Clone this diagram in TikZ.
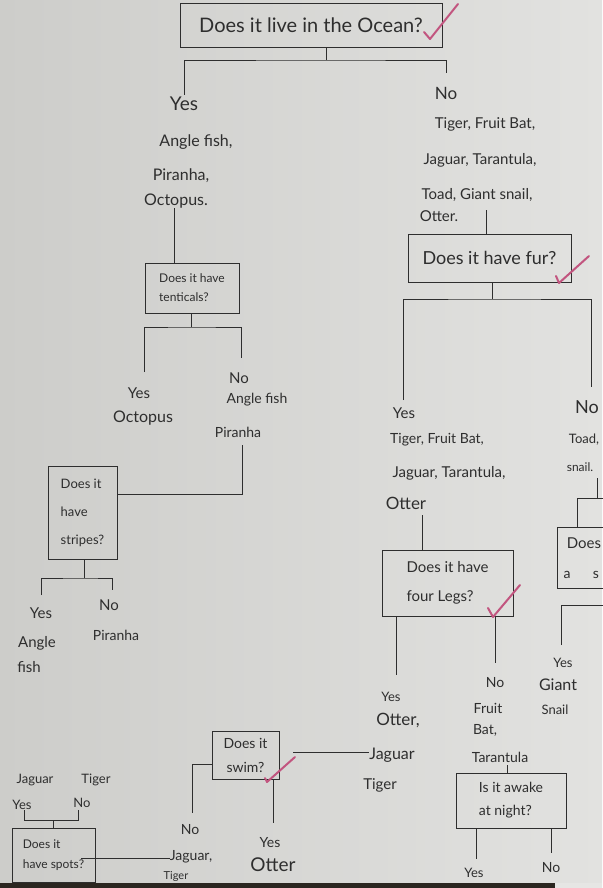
\documentclass[tikz,border=0pt]{standalone}
\usepackage{fontspec}
\setmainfont{Lato}
\definecolor{paperL}{HTML}{CDCDCA}
\definecolor{paperR}{HTML}{E2E2E0}
\definecolor{ink}{HTML}{2E2E2E}
\definecolor{tickpink}{HTML}{C2557F}
\definecolor{stripdark}{HTML}{2B2620}
\definecolor{striplight}{HTML}{E6E6E4}
\newcommand\hsz[2]{\fontsize{#1}{#2}\selectfont}
\tikzset{
  txt/.style={inner sep=0pt, text=ink},
  qbox/.style={draw=ink, line width=0.8pt, inner sep=0pt, text=ink},
  conn/.style={draw=ink, line width=0.8pt},
  tick/.style={draw=tickpink, line width=2pt, line cap=round, line join=round}
}
\begin{document}
\begin{tikzpicture}[x=1pt,y=-1pt]
\shade[left color=paperL, right color=paperR] (0,0) rectangle (602,888);
\useasboundingbox (0,0) rectangle (602,888);

% ---------- top question ----------
\node[qbox, minimum width=262pt, minimum height=44pt, font=\hsz{20}{20}] (ocean) at (311,25) {Does it live in the Ocean?};
\coordinate (j1) at (326,60);
\node[txt, font=\hsz{19}{19}] (yes1) at (184,104) {Yes};
\node[txt, font=\hsz{17}{17}] (no1) at (446,93) {No};
\draw[conn] (ocean.south -| j1) -- (j1);
\draw[conn] ([yshift=2pt]yes1.north) |- (j1) -| ([yshift=14pt]no1.north);

% ---------- left: ocean animals ----------
\node[txt, font=\hsz{16}{16}] (a1) at (196,142) {Angle fish,};
\node[txt, font=\hsz{16}{16}] (a2) at (181,176) {Piranha,};
\node[txt, font=\hsz{16}{16}] (a3) at (176,201) {Octopus.};
\node[qbox, minimum width=94pt, minimum height=50pt, align=left, font=\hsz{12}{19}] (tent) at (192,288) {Does it have\\tenticals?};
\draw[conn] ([xshift=-2pt]a3.south) -- ([xshift=-2pt]a3.south |- tent.north);

\coordinate (j2) at (191,327);
\coordinate (e2a) at (144,372);
\coordinate (e2b) at (241,358);
\draw[conn] (tent.south -| j2) -- (j2);
\draw[conn] (e2a) |- (j2) -| (e2b);
\node[txt, font=\hsz{15}{15}] (y2) at (139,393) {Yes};
\node[txt, font=\hsz{16}{16}] (y2b) at (143,418) {Octopus};
\node[txt, font=\hsz{15}{15}] (n2) at (239,378) {No};
\node[txt, font=\hsz{14}{14}] (n2b) at (257,400) {Angle fish};
\node[txt, font=\hsz{14}{14}] (n2c) at (238,432) {Piranha};

\node[qbox, minimum width=69pt, minimum height=93pt, align=left, font=\hsz{13}{28}] (stripes) at (82.5,512.5) {Does it\\have\\stripes?};
\coordinate (p1) at (242,445);
\draw[conn] (p1) |- ([yshift=18.5pt]stripes.east);

\coordinate (j3) at (84,578);
\coordinate (e3a) at (41,595);
\coordinate (e3b) at (112,590);
\draw[conn] (stripes.south -| j3) -- (j3);
\draw[conn] (e3a) |- (j3) -| (e3b);
\node[txt, font=\hsz{15}{15}] (y3) at (41,613) {Yes};
\node[txt, font=\hsz{15}{15}] (y3b) at (37,643) {Angle};
\node[txt, font=\hsz{15}{15}] (y3c) at (29,667) {fish};
\node[txt, font=\hsz{15}{15}] (n3) at (109,605) {No};
\node[txt, font=\hsz{14}{14}] (n3b) at (116,635) {Piranha};

% ---------- right: land animals ----------
\node[txt, font=\hsz{15}{15}] (r1) at (485,124) {Tiger, Fruit Bat,};
\node[txt, font=\hsz{15}{15}] (r2) at (480,160) {Jaguar, Tarantula,};
\node[txt, font=\hsz{15}{15}] (r3) at (477,195) {Toad, Giant snail,};
\node[txt, font=\hsz{15}{15}] (r4) at (439,216) {Otter.};
\node[qbox, minimum width=163pt, minimum height=48pt, font=\hsz{18}{18}] (fur) at (489.5,258) {Does it have fur?};
\coordinate (s1) at (486,210);
\draw[conn] (s1) -- (s1 |- fur.north);

\coordinate (j4) at (492,299);
\coordinate (e4a) at (403,400);
\coordinate (e4b) at (591,387);
\draw[conn] (fur.south -| j4) -- (j4);
\draw[conn] (e4a) |- (j4) -| (e4b);
\node[txt, font=\hsz{15}{15}] (y4) at (404,413) {Yes};
\node[txt, font=\hsz{14}{14}] (y4b) at (437,440) {Tiger, Fruit Bat,};
\node[txt, font=\hsz{15}{15}] (y4c) at (449,473) {Jaguar, Tarantula,};
\node[txt, font=\hsz{17}{17}] (y4d) at (406,503) {Otter};
\node[txt, font=\hsz{18}{18}] (n4) at (587,407) {No};
\node[txt, font=\hsz{13}{13}] (n4b) at (584,440) {Toad,};
\node[txt, font=\hsz{12}{12}] (n4c) at (580,467) {snail.};

% partial box on the right edge
\coordinate (q1) at (597,478);
\coordinate (q2) at (597,498);
\coordinate (q3) at (577,498);
\coordinate (q4) at (612,498);
\draw[conn] (q1) -- (q2);
\draw[conn] (q3) -- (q4);
\node[qbox, minimum width=70pt, minimum height=61pt, anchor=north west] (shell) at (557,527) {};
\draw[conn] (q3) -- (q3 |- shell.north);
\node[txt, font=\hsz{15}{15}] (sh1) at (584,543) {Does};
\node[txt, font=\hsz{14}{14}] (sh2) at (567,575) {a};
\node[txt, font=\hsz{14}{14}] (sh3) at (596,575) {s};
\coordinate (g1) at (561,645);
\coordinate (g2) at (612,605);
\draw[conn] (g1) |- (g2);
\node[txt, font=\hsz{13}{13}] (y7) at (563,663) {Yes};
\node[txt, font=\hsz{16}{16}] (y7b) at (558,685) {Giant};
\node[txt, font=\hsz{13}{13}] (y7c) at (555,710) {Snail};

% four legs
\coordinate (s2) at (422,515);
\node[qbox, minimum width=131pt, minimum height=66pt, align=left, font=\hsz{15}{29}] (legs) at (447.5,583) {Does it have\\four Legs?};
\draw[conn] (s2) -- (s2 |- legs.north);
\coordinate (e5a) at (396,675);
\coordinate (e5b) at (495,663);
\draw[conn] (legs.south -| e5a) -- (e5a);
\draw[conn] (legs.south -| e5b) -- (e5b);
\node[txt, font=\hsz{13}{13}] (y5) at (391,697) {Yes};
\node[txt, font=\hsz{17}{17}] (y5b) at (398,720) {Otter,};
\node[txt, font=\hsz{16}{16}] (jag) at (392,755) {Jaguar};
\node[txt, font=\hsz{15}{15}] (tig) at (380,785) {Tiger};
\node[txt, font=\hsz{14}{14}] (n5) at (495,683) {No};
\node[txt, font=\hsz{14}{14}] (n5b) at (488,708) {Fruit};
\node[txt, font=\hsz{14}{14}] (n5c) at (485,730) {Bat,};
\node[txt, font=\hsz{14}{14}] (n5d) at (500,757) {Tarantula};

% awake at night
\coordinate (s3) at (507,765);
\node[qbox, minimum width=110pt, minimum height=55pt, align=left, font=\hsz{14}{23}] (awake) at (511,800.5) {Is it awake\\at night?};
\draw[conn] (s3) -- (s3 |- awake.north);
\coordinate (e8a) at (476,859);
\coordinate (e8b) at (551,853);
\draw[conn] (awake.south -| e8a) -- (e8a);
\draw[conn] (awake.south -| e8b) -- (e8b);
\node[txt, font=\hsz{13}{13}] (y8) at (474,873) {Yes};
\node[txt, font=\hsz{14}{14}] (n8) at (551,868) {No};

% does it swim
\node[qbox, minimum width=67pt, minimum height=48pt, align=center, font=\hsz{14}{24}] (swim) at (245.5,755) {Does it\\swim?};
\draw[conn] ([xshift=14pt,yshift=3pt]swim.east) -- ([yshift=3pt]jag.west);
\coordinate (sw1) at (192,813);
\coordinate (sw2) at (273,823);
\draw[conn] ([yshift=-9pt]swim.west) -| (sw1);
\draw[conn] (swim.south -| sw2) -- (sw2);
\node[txt, font=\hsz{14}{14}] (n6) at (190,830) {No};
\node[txt, font=\hsz{14}{14}] (n6b) at (191,857) {Jaguar,};
\node[txt, font=\hsz{11}{11}] (n6c) at (176,876) {Tiger};
\node[txt, font=\hsz{14}{14}] (y6) at (270,843) {Yes};
\node[txt, font=\hsz{19}{19}] (y6b) at (273,865) {Otter};

% does it have spots
\node[qbox, minimum width=83pt, minimum height=54pt, align=left, font=\hsz{12}{20}] (spots) at (53.5,855) {Does it\\have spots?};
\coordinate (j6) at (53,820);
\coordinate (e6a) at (24,810);
\coordinate (e6b) at (78,810);
\draw[conn] (spots.north -| j6) -- (j6);
\draw[conn] (e6a) |- (j6) -| (e6b);
\draw[conn] ([xshift=-14pt,yshift=-3pt]spots.east) -- ([yshift=-1pt]n6b.west);
\node[txt, font=\hsz{13}{13}] (sj) at (35,780) {Jaguar};
\node[txt, font=\hsz{13}{13}] (st) at (96,780) {Tiger};
\node[txt, font=\hsz{13}{13}] (sy) at (22,805) {Yes};
\node[txt, font=\hsz{13}{13}] (sn) at (82,803) {No};

% ---------- pink ticks ----------
\draw[tick] (424,32) -- (430,39) -- (458,4);
\draw[tick] (556,276) -- (559,283) -- (589,256);
\draw[tick] (488,608) -- (493,617) -- (520,585);
\draw[tick] (265,778) -- (267,782) -- (295,757);

% ---------- photo edge strip ----------
\fill[stripdark] (0,883) rectangle (555,888);
\fill[striplight] (555,883) rectangle (602,888);
\end{tikzpicture}
\end{document}
